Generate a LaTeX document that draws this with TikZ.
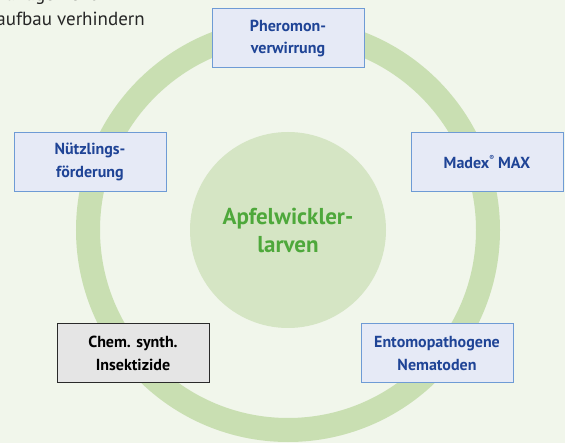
\documentclass[tikz,border=0pt]{standalone}
\usepackage{fontspec}
\setmainfont{PT Sans}
\usetikzlibrary{positioning}

\definecolor{paper}{HTML}{F1F6EB}
\definecolor{ringgreen}{HTML}{C9DFB2}
\definecolor{coregreen}{HTML}{D5E5C4}
\definecolor{titlegreen}{HTML}{4EA83B}
\definecolor{boxfill}{HTML}{E6EAF6}
\definecolor{boxline}{HTML}{6E9BD5}
\definecolor{boxtext}{HTML}{1F4496}
\definecolor{chemfill}{HTML}{E5E5E5}
\definecolor{chemline}{HTML}{2A2A2A}

\begin{document}
\begin{tikzpicture}[x=1pt,y=-1pt,
  measure/.style={draw=boxline,fill=boxfill,line width=1pt,
    minimum width=152pt,minimum height=59pt,inner sep=0pt,align=center,
    text=boxtext,font=\bfseries\fontsize{16}{22.5}\selectfont},
  chemical/.style={measure,draw=chemline,fill=chemfill,text=black},
  target/.style={circle,fill=coregreen,minimum size=196pt,inner sep=0pt,
    align=center,text=titlegreen,font=\bfseries\fontsize{23}{28}\selectfont},
  caption/.style={inner sep=0pt,text=black!85,font=\fontsize{19}{24}\selectfont}]

  % Page and background
  \useasboundingbox (0,0) rectangle (565,443);
  \fill[paper] (0,0) rectangle (565,443);

  % Cut-off text at the top left
  \begin{scope}
    \clip (0,0) rectangle (565,443);
    \node[caption,anchor=base east] (topline) at (97,1) {management};
    \node[caption,anchor=base east] (bottomline) at (145,26) {aufbau verhindern};
  \end{scope}

  % Ring and centre
  \coordinate (centre) at (288,230);
  \draw[ringgreen,line width=24pt] (centre) circle (200pt);
  \node[target] (larvae) at (centre) {Apfelwickler-\\larven};

  % Control measures around the ring
  \node[measure] (pheromone) at (288,38.5) {Pheromon-\\verwirrung};
  \node[measure] (beneficials) at (90,162) {Nützlings-\\förderung};
  \node[measure] (madex) at (487,162)
    {Madex\raisebox{1.1ex}{\fontsize{7}{7}\selectfont ®}~MAX};
  \node[chemical] (insecticides) at (133,353.5) {Chem. synth.\\Insektizide};
  \node[measure] (nematodes) at (437,353.5) {Entomopathogene\\Nematoden};
\end{tikzpicture}
\end{document}
